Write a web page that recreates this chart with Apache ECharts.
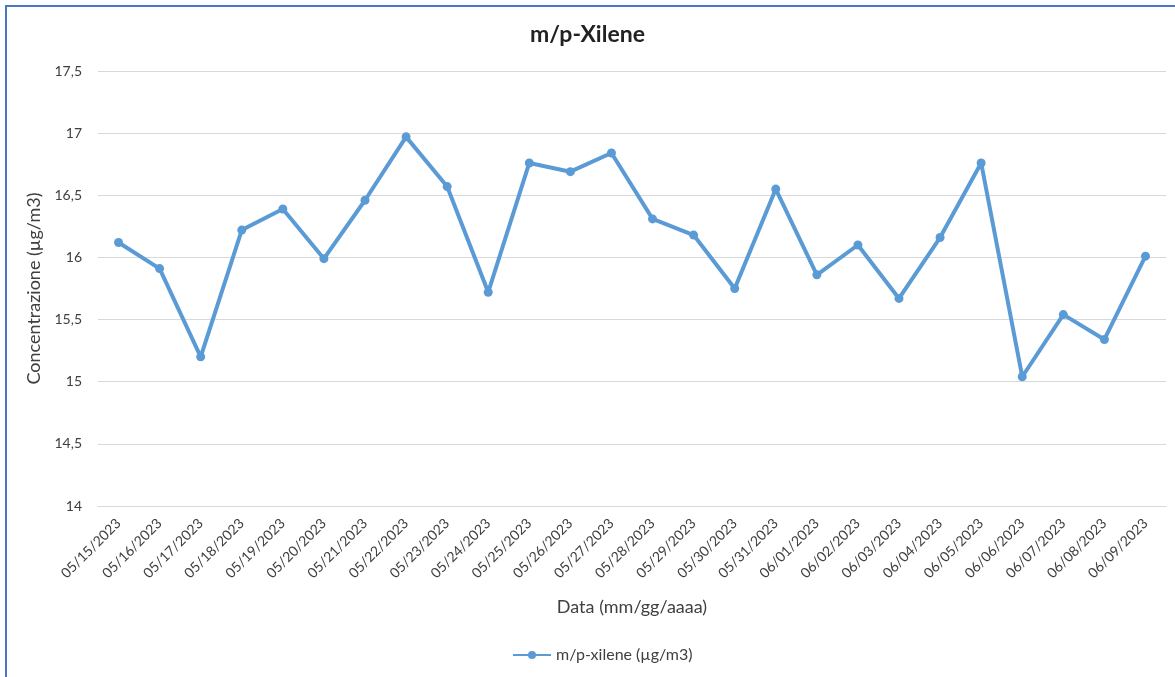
<!DOCTYPE html>
<html>
<head>
<meta charset="utf-8">
<script src="https://cdn.jsdelivr.net/npm/echarts@6/dist/echarts.min.js"></script>
<style>
  html, body { margin: 0; padding: 0; background: #fff; }
  #frame { position: absolute; left: 5px; top: 5px; width: 1200px; height: 700px;
           border-left: 2px solid #4a76c6; border-top: 2px solid #4a76c6; }
  #chart { position: absolute; left: 0; top: 0; width: 1175px; height: 677px; }
</style>
</head>
<body>
<div id="frame"></div>
<div id="chart"></div>
<script>
// date di misura (mm/gg/aaaa)
const dates = [
  '05/15/2023', '05/16/2023', '05/17/2023', '05/18/2023', '05/19/2023',
  '05/20/2023', '05/21/2023', '05/22/2023', '05/23/2023', '05/24/2023',
  '05/25/2023', '05/26/2023', '05/27/2023', '05/28/2023', '05/29/2023',
  '05/30/2023', '05/31/2023', '06/01/2023', '06/02/2023', '06/03/2023',
  '06/04/2023', '06/05/2023', '06/06/2023', '06/07/2023', '06/08/2023',
  '06/09/2023'
];
// m/p-xilene, µg/m3
const xilene = [
  16.12, 15.91, 15.20, 16.22, 16.39, 15.99, 16.46, 16.97, 16.57, 15.72,
  16.76, 16.69, 16.84, 16.31, 16.18, 15.75, 16.55, 15.86, 16.10, 15.67,
  16.16, 16.76, 15.04, 15.54, 15.34, 16.01
];

var myChart = echarts.init(document.getElementById('chart'));
const font = 'Lato, "Open Sans", sans-serif';

const option = {
  textStyle: { fontFamily: font },
  title: {
    text: 'm/p-Xilene',
    left: 'center',
    top: 18,
    textStyle: { fontSize: 23, fontWeight: 'bold', color: '#222', fontFamily: font }
  },
  legend: {
    bottom: 9,
    left: 507,
    itemWidth: 38,
    itemHeight: 10,
    itemGap: 6,
    textStyle: { fontSize: 16, color: '#404040' },
    data: ['m/p-xilene (µg/m3)']
  },
  grid: { left: 98, right: 9, top: 71, bottom: 171 },
  xAxis: {
    type: 'category',
    data: dates,
    boundaryGap: true,
    name: 'Data (mm/gg/aaaa)',
    nameLocation: 'middle',
    nameGap: 92,
    nameTextStyle: { fontSize: 18, color: '#404040' },
    axisLine: { lineStyle: { color: '#d9d9d9' } },
    axisTick: { show: false },
    axisLabel: { rotate: 45, interval: 0, fontSize: 14, color: '#404040', margin: 15 }
  },
  yAxis: {
    type: 'value',
    min: 14,
    max: 17.5,
    interval: 0.5,
    name: 'Concentrazione (µg/m3)',
    nameLocation: 'middle',
    nameGap: 51,
    nameTextStyle: { fontSize: 18, color: '#404040' },
    axisLine: { show: false },
    axisTick: { show: false },
    axisLabel: {
      fontSize: 14, color: '#404040', margin: 16,
      formatter: v => String(v).replace('.', ',')
    },
    splitLine: { lineStyle: { color: '#d9d9d9' } }
  },
  series: [
    {
      name: 'm/p-xilene (µg/m3)',
      type: 'line',
      data: xilene,
      symbol: 'circle',
      symbolSize: 9,
      lineStyle: { color: '#5b9bd5', width: 4 },
      itemStyle: { color: '#5b9bd5' }
    }
  ]
};

myChart.setOption(option);
</script>
</body>
</html>
